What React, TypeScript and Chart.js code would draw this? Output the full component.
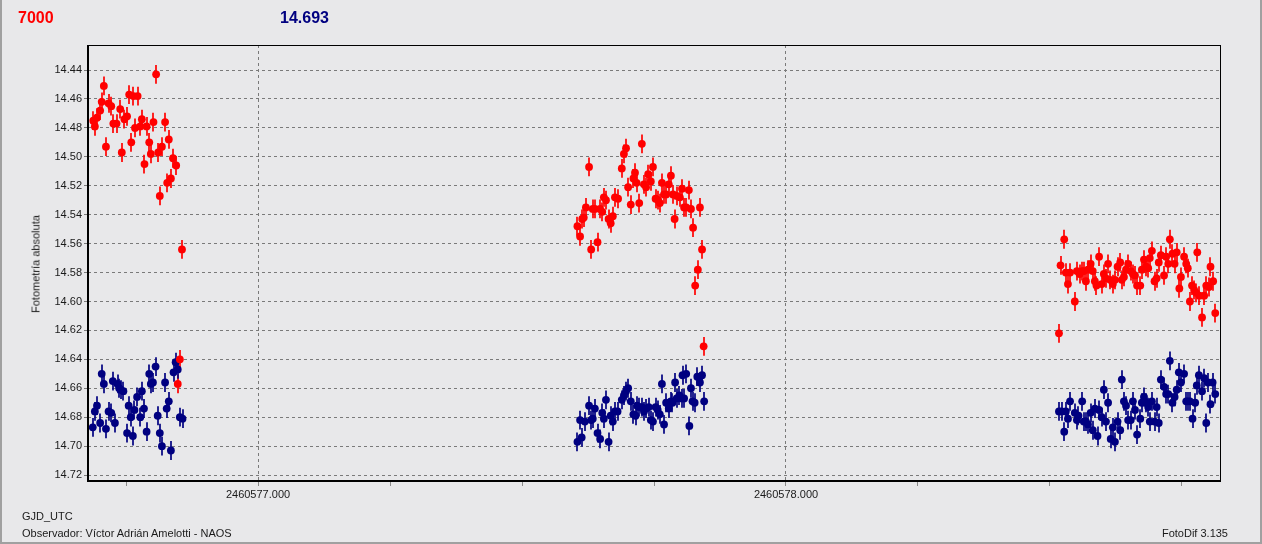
import React, { useEffect, useRef } from "react";
import { Chart, registerables } from "chart.js";

Chart.register(...registerables);

// ---- data ----
const RED_JD = [
  2460576.688, 2460576.691, 2460576.695, 2460576.701, 2460576.704, 2460576.708, 2460576.712, 2460576.717,
  2460576.722, 2460576.726, 2460576.732, 2460576.739, 2460576.742, 2460576.747, 2460576.752, 2460576.756,
  2460576.760, 2460576.764, 2460576.767, 2460576.772, 2460576.777, 2460576.780, 2460576.785, 2460576.789,
  2460576.794, 2460576.797, 2460576.802, 2460576.807, 2460576.811, 2460576.814, 2460576.818, 2460576.824,
  2460576.828, 2460576.831, 2460576.835, 2460576.839, 2460576.845, 2460576.848, 2460576.852, 2460576.856,
  2460577.605, 2460577.610, 2460577.614, 2460577.617, 2460577.621, 2460577.627, 2460577.631, 2460577.634,
  2460577.638, 2460577.643, 2460577.648, 2460577.652, 2460577.655, 2460577.659, 2460577.664, 2460577.668,
  2460577.672, 2460577.676, 2460577.682, 2460577.689, 2460577.693, 2460577.697, 2460577.701, 2460577.706,
  2460577.711, 2460577.714, 2460577.717, 2460577.722, 2460577.727, 2460577.731, 2460577.735, 2460577.739,
  2460577.744, 2460577.748, 2460577.753, 2460577.758, 2460577.761, 2460577.765, 2460577.769, 2460577.773,
  2460577.778, 2460577.782, 2460577.786, 2460577.789, 2460577.793, 2460577.799, 2460577.803, 2460577.807,
  2460577.811, 2460577.816, 2460577.820, 2460577.824, 2460577.828, 2460577.833, 2460577.837, 2460577.841,
  2460577.844,
  2460578.517, 2460578.520, 2460578.527, 2460578.530, 2460578.534, 2460578.538, 2460578.547, 2460578.551,
  2460578.556, 2460578.561, 2460578.564, 2460578.568, 2460578.572, 2460578.577, 2460578.581, 2460578.585,
  2460578.588, 2460578.593, 2460578.598, 2460578.602, 2460578.606, 2460578.610, 2460578.614, 2460578.619,
  2460578.623, 2460578.628, 2460578.633, 2460578.636, 2460578.640, 2460578.644, 2460578.648, 2460578.653,
  2460578.657, 2460578.661, 2460578.665, 2460578.671, 2460578.674, 2460578.678, 2460578.682, 2460578.686,
  2460578.689, 2460578.693, 2460578.698, 2460578.702, 2460578.706, 2460578.710, 2460578.716, 2460578.720,
  2460578.724, 2460578.727, 2460578.732, 2460578.736, 2460578.740, 2460578.745, 2460578.748, 2460578.754,
  2460578.758, 2460578.761, 2460578.765, 2460578.769, 2460578.773, 2460578.777, 2460578.779, 2460578.783,
  2460578.788, 2460578.792, 2460578.796, 2460578.801, 2460578.804, 2460578.809, 2460578.813,
];
const RED_MAG = [
  14.475, 14.479, 14.473, 14.468, 14.462, 14.451, 14.493, 14.463,
  14.465, 14.477, 14.477, 14.467, 14.497, 14.474, 14.472, 14.457,
  14.490, 14.458, 14.480, 14.458, 14.479, 14.474, 14.505, 14.479,
  14.490, 14.498, 14.476, 14.443, 14.497, 14.527, 14.493, 14.476,
  14.518, 14.488, 14.515, 14.501, 14.506, 14.657, 14.640, 14.564,
  14.548, 14.555, 14.543, 14.542, 14.535, 14.507, 14.564, 14.536,
  14.536, 14.559, 14.536, 14.538, 14.528, 14.530, 14.543, 14.546,
  14.541, 14.528, 14.529, 14.508, 14.498, 14.494, 14.521, 14.533,
  14.515, 14.511, 14.518, 14.532, 14.491, 14.519, 14.521, 14.512,
  14.517, 14.507, 14.529, 14.530, 14.532, 14.518, 14.526, 14.526,
  14.519, 14.513, 14.526, 14.543, 14.527, 14.528, 14.522, 14.535,
  14.535, 14.523, 14.536, 14.549, 14.589, 14.578, 14.535, 14.564,
  14.631,
  14.622, 14.575, 14.557, 14.580, 14.588, 14.580, 14.600, 14.579,
  14.581, 14.579, 14.579, 14.586, 14.578, 14.574, 14.579, 14.586,
  14.589, 14.569, 14.588, 14.581, 14.584, 14.574, 14.585, 14.588,
  14.585, 14.576, 14.573, 14.585, 14.583, 14.578, 14.574, 14.579,
  14.581, 14.582, 14.589, 14.589, 14.578, 14.571, 14.576, 14.577,
  14.570, 14.565, 14.586, 14.584, 14.573, 14.568, 14.582, 14.569,
  14.574, 14.557, 14.567, 14.574, 14.566, 14.591, 14.583, 14.569,
  14.574, 14.577, 14.600, 14.589, 14.592, 14.594, 14.566, 14.596,
  14.611, 14.596, 14.589, 14.590, 14.576, 14.586, 14.608,
];
const BLUE_JD = [
  2460576.687, 2460576.691, 2460576.695, 2460576.701, 2460576.704, 2460576.708, 2460576.712, 2460576.717,
  2460576.722, 2460576.725, 2460576.729, 2460576.734, 2460576.737, 2460576.740, 2460576.745, 2460576.752,
  2460576.755, 2460576.759, 2460576.763, 2460576.766, 2460576.771, 2460576.777, 2460576.780, 2460576.784,
  2460576.789, 2460576.794, 2460576.797, 2460576.801, 2460576.806, 2460576.810, 2460576.814, 2460576.818,
  2460576.824, 2460576.827, 2460576.831, 2460576.835, 2460576.840, 2460576.844, 2460576.848, 2460576.852,
  2460576.857,
  2460577.605, 2460577.613, 2460577.610, 2460577.619, 2460577.627, 2460577.631, 2460577.634, 2460577.638,
  2460577.643, 2460577.648, 2460577.652, 2460577.655, 2460577.659, 2460577.664, 2460577.668, 2460577.672,
  2460577.676, 2460577.681, 2460577.689, 2460577.693, 2460577.697, 2460577.701, 2460577.706, 2460577.711,
  2460577.715, 2460577.718, 2460577.722, 2460577.727, 2460577.731, 2460577.735, 2460577.740, 2460577.744,
  2460577.748, 2460577.753, 2460577.757, 2460577.761, 2460577.765, 2460577.769, 2460577.773, 2460577.778,
  2460577.782, 2460577.785, 2460577.790, 2460577.793, 2460577.798, 2460577.803, 2460577.804, 2460577.807,
  2460577.811, 2460577.817, 2460577.820, 2460577.823, 2460577.827, 2460577.832, 2460577.837, 2460577.841,
  2460577.845,
  2460578.517, 2460578.522, 2460578.527, 2460578.530, 2460578.534, 2460578.538, 2460578.547, 2460578.551,
  2460578.554, 2460578.561, 2460578.564, 2460578.568, 2460578.572, 2460578.577, 2460578.581, 2460578.585,
  2460578.590, 2460578.593, 2460578.598, 2460578.602, 2460578.606, 2460578.610, 2460578.615, 2460578.619,
  2460578.623, 2460578.628, 2460578.633, 2460578.636, 2460578.640, 2460578.644, 2460578.648, 2460578.653,
  2460578.657, 2460578.661, 2460578.665, 2460578.671, 2460578.674, 2460578.678, 2460578.682, 2460578.686,
  2460578.689, 2460578.693, 2460578.698, 2460578.702, 2460578.706, 2460578.710, 2460578.716, 2460578.720,
  2460578.724, 2460578.727, 2460578.732, 2460578.736, 2460578.740, 2460578.744, 2460578.748, 2460578.754,
  2460578.758, 2460578.761, 2460578.765, 2460578.770, 2460578.775, 2460578.778, 2460578.782, 2460578.788,
  2460578.792, 2460578.796, 2460578.799, 2460578.804, 2460578.808, 2460578.813,
];
const BLUE_MAG = [
  14.687, 14.676, 14.672, 14.684, 14.650, 14.657, 14.688, 14.676,
  14.677, 14.655, 14.684, 14.657, 14.660, 14.661, 14.662, 14.691,
  14.672, 14.680, 14.693, 14.675, 14.666, 14.680, 14.662, 14.674,
  14.690, 14.650, 14.657, 14.656, 14.645, 14.679, 14.691, 14.700,
  14.656, 14.674, 14.669, 14.703, 14.649, 14.642, 14.647, 14.680,
  14.681,
  14.697, 14.694, 14.682, 14.683, 14.672, 14.682, 14.681, 14.674,
  14.691, 14.695, 14.677, 14.681, 14.668, 14.697, 14.679, 14.683,
  14.676, 14.676, 14.668, 14.665, 14.662, 14.660, 14.669, 14.678,
  14.679, 14.672, 14.673, 14.673, 14.676, 14.674, 14.673, 14.682,
  14.683, 14.673, 14.675, 14.678, 14.657, 14.685, 14.670, 14.674,
  14.669, 14.670, 14.656, 14.667, 14.665, 14.667, 14.651, 14.667,
  14.650, 14.686, 14.660, 14.669, 14.670, 14.652, 14.656, 14.651,
  14.669,
  14.676, 14.676, 14.690, 14.676, 14.681, 14.669, 14.677, 14.682,
  14.679, 14.669, 14.683, 14.683, 14.685, 14.677, 14.689, 14.674,
  14.693, 14.675, 14.680, 14.661, 14.683, 14.670, 14.695, 14.687,
  14.697, 14.683, 14.689, 14.654, 14.669, 14.672, 14.682, 14.682,
  14.669, 14.675, 14.692, 14.681, 14.670, 14.666, 14.670, 14.673,
  14.683, 14.669, 14.683, 14.673, 14.684, 14.654, 14.659, 14.664,
  14.664, 14.641, 14.670, 14.666, 14.661, 14.649, 14.656, 14.650,
  14.669, 14.669, 14.669, 14.681, 14.670, 14.658, 14.651, 14.662,
  14.653, 14.684, 14.656, 14.671, 14.656, 14.664,
];
const RED_ERR = 0.0065;
const BLUE_ERR = 0.0065;

const Y_TICKS = [14.44, 14.46, 14.48, 14.5, 14.52, 14.54, 14.56, 14.58, 14.6, 14.62, 14.64, 14.66, 14.68, 14.7, 14.72];
const X_TICKS = [2460576.75, 2460577, 2460577.25, 2460577.5, 2460577.75, 2460578, 2460578.25, 2460578.5, 2460578.75];
const X_LABELED = [2460577, 2460578];
const X_MIN = 2460576.678;
const X_MAX = 2460578.822;
const Y_MIN = 14.4227;
const Y_MAX = 14.7241;

const HEADER_VAR = "7000";
const HEADER_CMP = "14.693";
const Y_TITLE = "Fotometría absoluta";
const X_TITLE = "GJD_UTC";
const OBSERVER = "Observador: Víctor Adrián Amelotti - NAOS";
const SOFTWARE = "FotoDif 3.135";

const FONT = "'Liberation Sans', Arial, sans-serif";
const BG = "#e8e8ea";

const errorBarPlugin = {
  id: "errorBars",
  beforeDatasetsDraw(chart: any) {
    const ctx = chart.ctx;
    const xs = chart.scales.x;
    const ys = chart.scales.y;
    ctx.save();
    chart.data.datasets.forEach((ds: any) => {
      ctx.strokeStyle = ds.backgroundColor;
      ctx.lineWidth = 1.7;
      ds.data.forEach((p: any) => {
        const px = Math.round(xs.getPixelForValue(p.x));
        const y1 = ys.getPixelForValue(p.y - ds.errValue);
        const y2 = ys.getPixelForValue(p.y + ds.errValue);
        ctx.beginPath();
        ctx.moveTo(px, y1);
        ctx.lineTo(px, y2);
        ctx.stroke();
      });
    });
    ctx.restore();
  },
};

const framePlugin = {
  id: "frame",
  afterDraw(chart: any) {
    const { left, right, top, bottom } = chart.chartArea;
    const ctx = chart.ctx;
    ctx.save();
    ctx.fillStyle = "#000";
    ctx.fillRect(left - 1, top, 2, bottom - top + 1);
    ctx.fillRect(left - 1, bottom - 1, right - left + 2, 2);
    ctx.fillRect(left - 1, top, right - left + 2, 1);
    ctx.fillRect(right, top, 1, bottom - top + 1);
    ctx.restore();
  },
};

export default function App() {
  const canvasRef = useRef<HTMLCanvasElement | null>(null);

  useEffect(() => {
    if (!canvasRef.current) return;
    const red = RED_JD.map((x, i) => ({ x, y: RED_MAG[i] }));
    const blue = BLUE_JD.map((x, i) => ({ x, y: BLUE_MAG[i] }));
    const tickFont = { family: FONT, size: 11 };
    const chart = new Chart(canvasRef.current, {
      type: "scatter",
      data: {
        datasets: [
          {
            label: HEADER_VAR,
            data: red,
            backgroundColor: "#ff0000",
            borderWidth: 0,
            pointRadius: 3.9,
            pointHoverRadius: 3.9,
            errValue: RED_ERR,
          } as any,
          {
            label: HEADER_CMP,
            data: blue,
            backgroundColor: "#000080",
            borderWidth: 0,
            pointRadius: 3.9,
            pointHoverRadius: 3.9,
            errValue: BLUE_ERR,
          } as any,
        ],
      },
      options: {
        animation: false,
        responsive: false,
        events: [],
        layout: { padding: { left: 0, right: 42, top: 45, bottom: 0 } },
        plugins: { legend: { display: false }, tooltip: { enabled: false } },
        scales: {
          x: {
            type: "linear",
            min: X_MIN,
            max: X_MAX,
            afterBuildTicks: (s: any) => {
              s.ticks = X_TICKS.map((v) => ({ value: v }));
            },
            afterFit: (s: any) => {
              s.height = 63;
            },
            ticks: {
              autoSkip: false,
              maxRotation: 0,
              minRotation: 0,
              padding: 2,
              color: "#1a1a1a",
              font: tickFont,
              callback: (v: any) => (X_LABELED.includes(Number(v)) ? Number(v).toFixed(3) : ""),
            },
            grid: {
              color: (c: any) => (c.tick && X_LABELED.includes(c.tick.value) ? "#7a7a7a" : "rgba(0,0,0,0)"),
              tickColor: "#8a8a8a",
              tickLength: 5,
              lineWidth: 1,
            },
            border: { display: false, dash: [3, 3] },
          },
          y: {
            type: "linear",
            reverse: true,
            min: Y_MIN,
            max: Y_MAX,
            afterBuildTicks: (s: any) => {
              s.ticks = Y_TICKS.map((v) => ({ value: v }));
            },
            afterFit: (s: any) => {
              s.width = 88;
            },
            ticks: {
              autoSkip: false,
              padding: 2,
              color: "#1a1a1a",
              font: tickFont,
              callback: (v: any) => Number(v).toFixed(2),
            },
            grid: {
              color: "#7a7a7a",
              tickColor: "#7a7a7a",
              tickLength: 4,
              lineWidth: 1,
            },
            border: { display: false, dash: [3, 3] },
          },
        },
      },
      plugins: [errorBarPlugin, framePlugin],
    });
    return () => chart.destroy();
  }, []);

  const text: React.CSSProperties = {
    position: "absolute",
    fontFamily: FONT,
    fontSize: 11,
    lineHeight: "11px",
    color: "#1a1a1a",
    whiteSpace: "nowrap",
  };

  return (
    <div
      style={{
        position: "absolute",
        left: 0,
        top: 0,
        width: 1262,
        height: 544,
        background: BG,
        overflow: "hidden",
      }}
    >
      <canvas
        ref={canvasRef}
        width={1262}
        height={544}
        style={{ position: "absolute", left: 0, top: 0, width: 1262, height: 544 }}
      />
      <div style={{ ...text, left: 18, top: 10, fontSize: 16, lineHeight: "16px", fontWeight: "bold", color: "#ff0000" }}>
        {HEADER_VAR}
      </div>
      <div style={{ ...text, left: 280, top: 10, fontSize: 16, lineHeight: "16px", fontWeight: "bold", color: "#000080" }}>
        {HEADER_CMP}
      </div>
      <div
        style={{
          ...text,
          left: 36,
          top: 264,
          transform: "translate(-50%, -50%) rotate(-90deg)",
        }}
      >
        {Y_TITLE}
      </div>
      <div style={{ ...text, left: 22, top: 511 }}>{X_TITLE}</div>
      <div style={{ ...text, left: 22, top: 528 }}>{OBSERVER}</div>
      <div style={{ ...text, right: 34, top: 528 }}>{SOFTWARE}</div>
      <div
        style={{
          position: "absolute",
          left: 0,
          top: 0,
          width: 1262,
          height: 544,
          boxSizing: "border-box",
          borderLeft: "2px solid #a0a0a0",
          borderRight: "2px solid #a0a0a0",
          borderBottom: "2px solid #a0a0a0",
          pointerEvents: "none",
        }}
      />
    </div>
  );
}
